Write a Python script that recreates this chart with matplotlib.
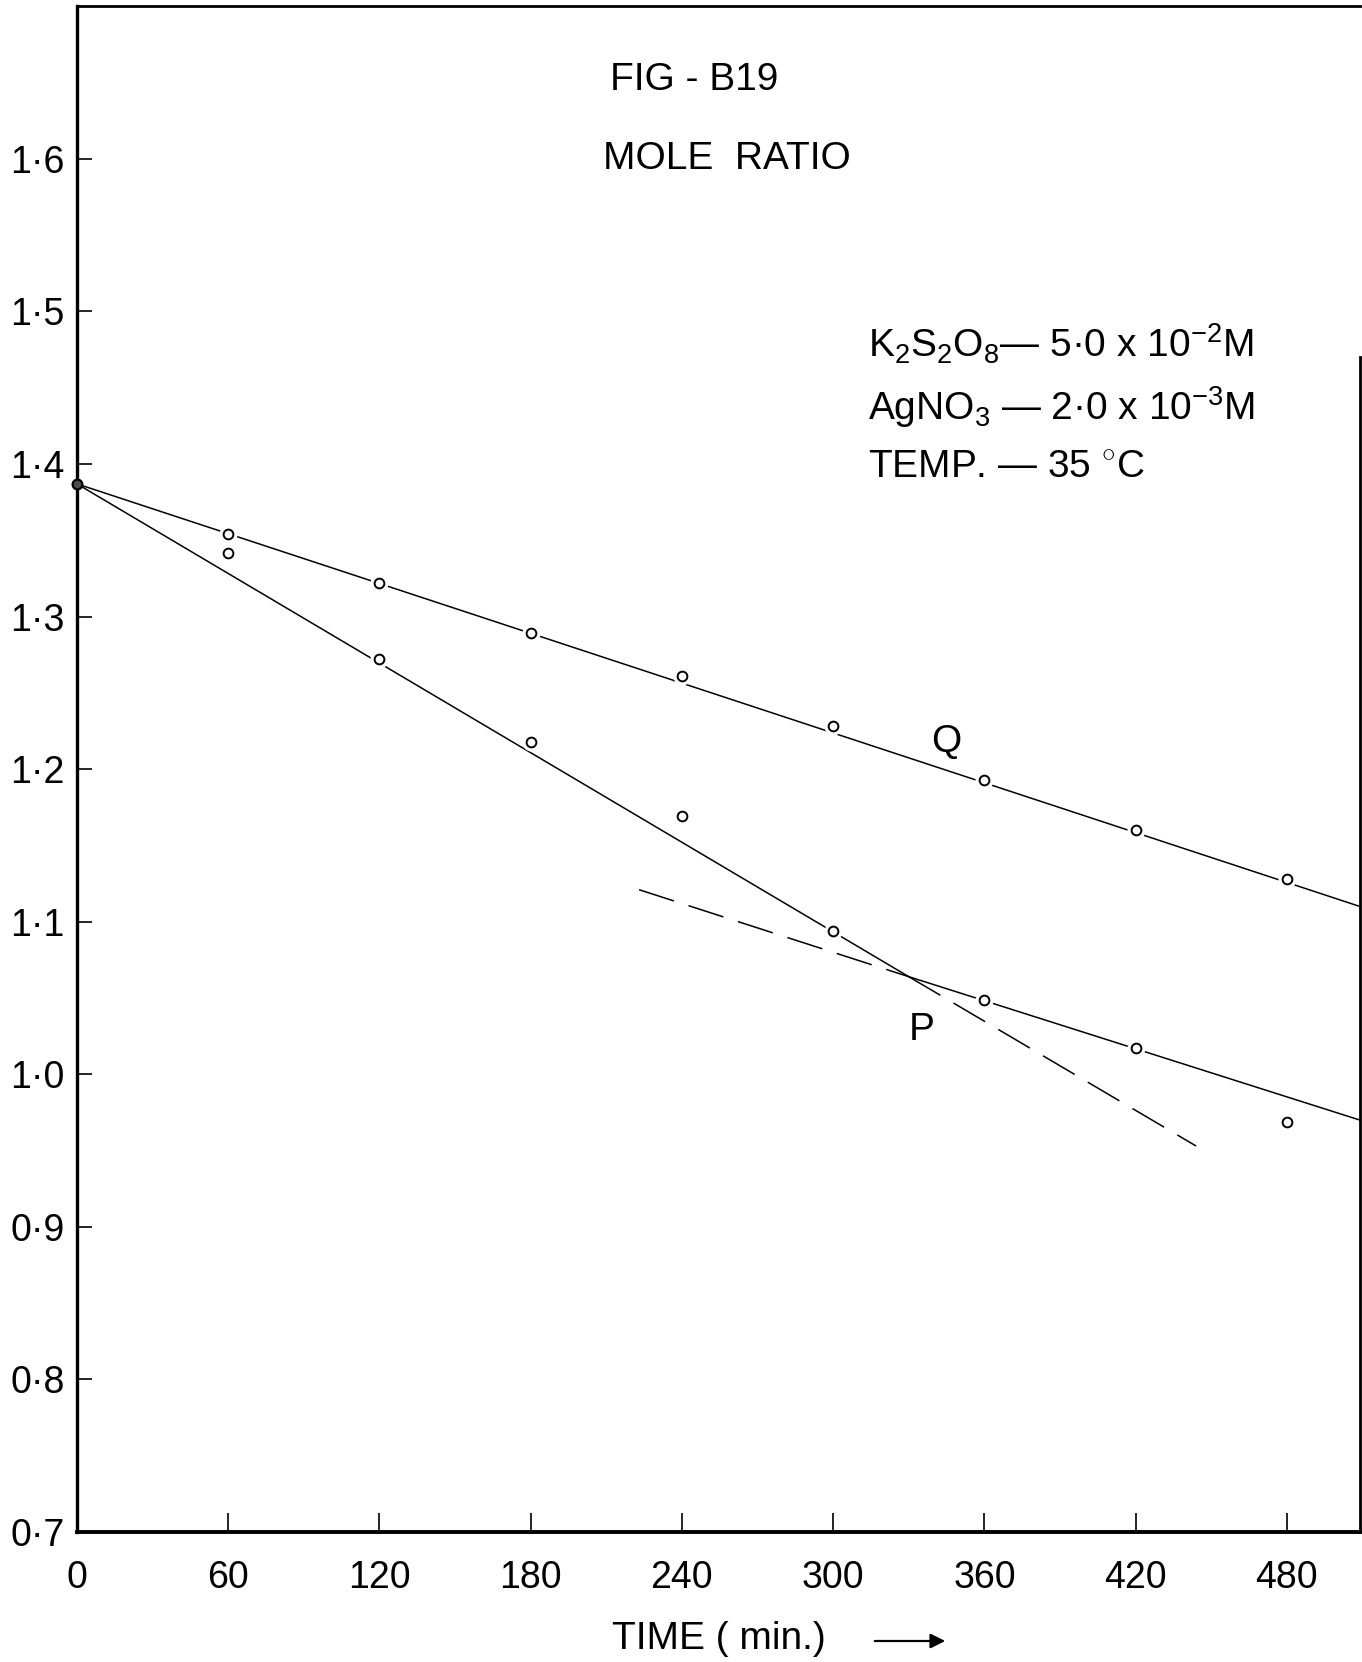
import matplotlib
matplotlib.use("Agg")
import matplotlib.pyplot as plt

plt.rcParams["font.family"] = ["Liberation Sans", "DejaVu Sans"]
plt.rcParams["mathtext.fontset"] = "custom"
plt.rcParams["mathtext.rm"] = "Liberation Sans"
plt.rcParams["mathtext.it"] = "Liberation Sans"

# time (min.) and mole ratio
start_time = [0]
start_ratio = [1.387]

q_time = [60, 120, 180, 240, 300, 360, 420, 480]
q_ratio = [1.354, 1.322, 1.289, 1.261, 1.228, 1.193, 1.160, 1.128]

p_time = [60, 120, 180, 240, 300, 360, 420, 480]
p_ratio = [1.342, 1.272, 1.2175, 1.1695, 1.094, 1.0485, 1.017, 0.969]

# drawn straight lines (end points and the crossing point)
q_line_time = [0, 509]
q_line_ratio = [1.387, 1.110]

p1_solid_time = [0, 330]
p1_solid_ratio = [1.387, 1.064]
p1_dash_time = [330, 444]
p1_dash_ratio = [1.064, 0.953]

p2_dash_time = [223, 330]
p2_dash_ratio = [1.121, 1.064]
p2_solid_time = [330, 509]
p2_solid_ratio = [1.064, 0.970]

x_ticks = [0, 60, 120, 180, 240, 300, 360, 420, 480]
y_ticks = [0.7, 0.8, 0.9, 1.0, 1.1, 1.2, 1.3, 1.4, 1.5, 1.6]
y_labels = ["0·7", "0·8", "0·9", "1·0", "1·1", "1·2", "1·3", "1·4", "1·5", "1·6"]

fs = 28
tick_fs = 27

fig = plt.figure(figsize=(13.62, 16.62), dpi=100)
ax = fig.add_axes([0.0565, 0.0782, 0.942, 0.918])

lw = 1.1
ax.plot(q_line_time, q_line_ratio, color="k", lw=lw)
ax.plot(p1_solid_time, p1_solid_ratio, color="k", lw=lw)
ax.plot(p1_dash_time, p1_dash_ratio, color="k", lw=lw, dashes=(24, 10))
ax.plot(p2_dash_time, p2_dash_ratio, color="k", lw=lw, dashes=(24, 10))
ax.plot(p2_solid_time, p2_solid_ratio, color="k", lw=lw)

# open circles, with a small white gap where the line meets them
for t, r in [(q_time, q_ratio), (p_time, p_ratio)]:
    ax.plot(t, r, ls="none", marker="o", ms=12, mfc="white", mec="white", zorder=3)
    ax.plot(t, r, ls="none", marker="o", ms=7, mfc="white", mec="k", mew=1.4, zorder=4)
ax.plot(start_time, start_ratio, ls="none", marker="o", ms=7, mfc="0.3", mec="k",
        mew=1.6, zorder=5, clip_on=False)

ax.set_xlim(0, 509)
ax.set_ylim(0.7, 1.70)
ax.set_xticks(x_ticks)
ax.set_yticks(y_ticks)
ax.set_yticklabels(y_labels)
ax.tick_params(axis="both", direction="in", labelsize=tick_fs, color="k")
ax.tick_params(axis="y", length=11, width=1.2, pad=9)
ax.tick_params(axis="x", length=14, width=1.2, pad=20)

for side, w in [("left", 2.4), ("bottom", 2.8), ("top", 2.0), ("right", 2.0)]:
    ax.spines[side].set_linewidth(w)
ax.spines["right"].set_bounds(0.7, 1.47)

ax.set_xlabel("TIME ( min.)", fontsize=fs, labelpad=18)
ax.annotate("", xy=(948, 21), xytext=(872, 21), xycoords="figure pixels",
            textcoords="figure pixels",
            arrowprops=dict(arrowstyle="-|>", lw=1.6, color="k", mutation_scale=22))

ax.text(245, 1.652, "FIG - B19", fontsize=fs, ha="center", va="center")
ax.text(258, 1.600, "MOLE  RATIO", fontsize=fs, ha="center", va="center")

ax.text(314, 1.470, r"K$_2$S$_2$O$_8$— 5·0 x 10$^{-2}$M", fontsize=fs, va="baseline")
ax.text(314, 1.429, r"AgNO$_3$ — 2·0 x 10$^{-3}$M", fontsize=fs, va="baseline")
ax.text(314, 1.391, r"TEMP. — 35 $^{\circ}$C", fontsize=fs, va="baseline")

ax.text(345, 1.218, "Q", fontsize=fs, ha="center", va="center")
ax.text(335, 1.029, "P", fontsize=fs, ha="center", va="center")

fig.savefig("out.png", dpi=100)
